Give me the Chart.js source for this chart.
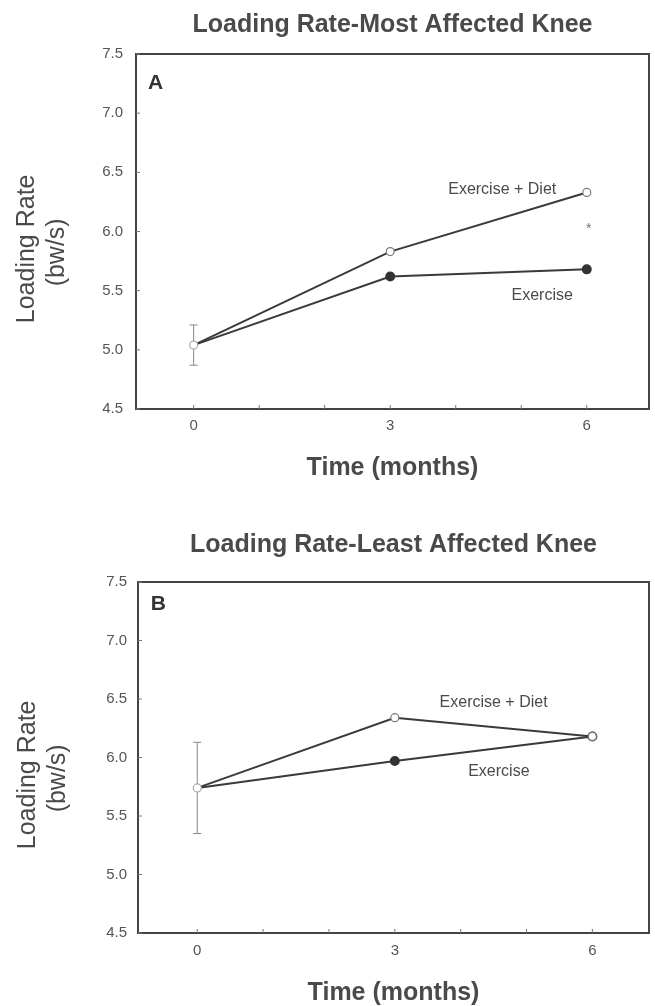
<!DOCTYPE html>
<html lang="en">
<head>
<meta charset="UTF-8">
<title>Loading Rate - Most and Least Affected Knee</title>
<script src="https://cdn.jsdelivr.net/npm/chart.js"></script>
<style>
  body { margin: 0; background: #ffffff; width: 655px; }
  canvas { display: block; }
</style>
</head>
<body>
<canvas id="chartA" width="655" height="503"></canvas>
<canvas id="chartB" width="655" height="503"></canvas>
<script>
// time points (months)
const months = [0, 3, 6];
const xTickValues = [0, 1, 2, 3, 4, 5, 6];
const xTickLabels = ['0', '3', '6'];
const yTickValues = [4.5, 5.0, 5.5, 6.0, 6.5, 7.0, 7.5];

// A - most affected knee
const exDietA = [5.04, 5.83, 6.33];
const exerciseA = [5.04, 5.62, 5.68];
const baselineSdA = 0.17;

// B - least affected knee
const exDietB = [5.74, 6.34, 6.18];
const exerciseB = [5.74, 5.97, 6.18];
const baselineSdB = 0.39;

const INK = '#3a3a3a';
const TEXT = '#4a4a4a';
const FONT = "'Liberation Sans', Arial, sans-serif";
Chart.defaults.font.family = FONT;

// box frame (top + right) and small inward ticks
const framePlugin = {
  id: 'frame',
  beforeDatasetsDraw(chart) {
    const { ctx, chartArea: a, scales: { x, y } } = chart;
    ctx.save();
    ctx.strokeStyle = '#444';
    ctx.lineWidth = 2;
    ctx.beginPath();
    ctx.moveTo(a.left, a.top);
    ctx.lineTo(a.right, a.top);
    ctx.lineTo(a.right, a.bottom);
    ctx.stroke();
    ctx.lineWidth = 1;
    ctx.strokeStyle = '#777';
    ctx.beginPath();
    xTickValues.forEach(v => {
      const px = x.getPixelForValue(v);
      ctx.moveTo(px, a.bottom);
      ctx.lineTo(px, a.bottom - 4);
    });
    yTickValues.forEach(v => {
      const py = y.getPixelForValue(v);
      ctx.moveTo(a.left, py);
      ctx.lineTo(a.left + 4, py);
    });
    ctx.stroke();
    ctx.restore();
  }
};

// baseline error bar, drawn under the markers
const errorBarPlugin = {
  id: 'errorBar',
  beforeDatasetsDraw(chart, args, opts) {
    const { ctx, scales: { x, y } } = chart;
    const px = x.getPixelForValue(months[0]);
    const top = y.getPixelForValue(opts.value + opts.sd);
    const bottom = y.getPixelForValue(opts.value - opts.sd);
    ctx.save();
    ctx.strokeStyle = '#888';
    ctx.lineWidth = 1;
    ctx.beginPath();
    ctx.moveTo(px, top); ctx.lineTo(px, bottom);
    ctx.moveTo(px - 4, top); ctx.lineTo(px + 4, top);
    ctx.moveTo(px - 4, bottom); ctx.lineTo(px + 4, bottom);
    ctx.stroke();
    ctx.restore();
  }
};

// series labels, panel letter and significance mark
const labelPlugin = {
  id: 'labels',
  afterDatasetsDraw(chart, args, opts) {
    const { ctx, scales: { x, y } } = chart;
    ctx.save();
    ctx.textAlign = 'center';
    ctx.textBaseline = 'middle';
    opts.items.forEach(it => {
      ctx.font = it.font;
      ctx.fillStyle = it.color || TEXT;
      ctx.fillText(it.text, x.getPixelForValue(it.x), y.getPixelForValue(it.y));
    });
    ctx.restore();
  }
};

function makePanel(id, cfg) {
  const ctx = document.getElementById(id).getContext('2d');
  return new Chart(ctx, {
    type: 'line',
    data: {
      datasets: [
        {
          label: 'Exercise + Diet',
          data: months.map((m, i) => ({ x: m, y: cfg.exDiet[i] })),
          borderColor: INK,
          borderWidth: 2,
          pointRadius: 4,
          pointBackgroundColor: '#ffffff',
          pointBorderColor: ['#aaaaaa', '#777777', '#777777'],
          pointBorderWidth: 1.2,
          tension: 0
        },
        {
          label: 'Exercise',
          data: months.map((m, i) => ({ x: m, y: cfg.exercise[i] })),
          borderColor: INK,
          borderWidth: 2,
          pointRadius: [0, 4, 4],
          pointBackgroundColor: '#333333',
          pointBorderColor: '#333333',
          tension: 0
        }
      ]
    },
    options: {
      responsive: false,
      animation: false,
      events: [],
      layout: { padding: { left: 0, right: 2, top: 0, bottom: 0 } },
      scales: {
        x: {
          type: 'linear',
          min: cfg.xMin,
          max: cfg.xMax,
          afterBuildTicks: s => { s.ticks = xTickValues.map(v => ({ value: v })); },
          afterFit: s => { s.height = cfg.xHeight; },
          ticks: {
            autoSkip: false,
            maxRotation: 0,
            padding: cfg.xTickPad,
            color: '#555',
            font: { size: 15 },
            callback: v => xTickLabels.includes(String(v)) ? String(v) : ''
          },
          grid: { display: false, drawTicks: false },
          border: { display: true, color: '#444', width: 2 },
          title: {
            display: true,
            text: 'Time (months)',
            color: TEXT,
            font: { size: 25, weight: 'bold', lineHeight: 1 },
            padding: { top: 0, bottom: cfg.xTitlePad }
          }
        },
        y: {
          min: 4.5,
          max: 7.5,
          afterBuildTicks: s => { s.ticks = yTickValues.map(v => ({ value: v })); },
          afterFit: s => { s.width = cfg.yWidth; },
          ticks: {
            padding: cfg.yTickPad,
            color: '#555',
            font: { size: 15 },
            callback: v => Number(v).toFixed(1)
          },
          grid: { display: false, drawTicks: false },
          border: { display: true, color: '#444', width: 2 },
          title: {
            display: true,
            text: ['Loading Rate     ', '(bw/s)      '],
            color: TEXT,
            font: { size: 25, lineHeight: 1.2 },
            padding: { top: cfg.yTitlePad, bottom: 0 }
          }
        }
      },
      plugins: {
        legend: { display: false },
        tooltip: { enabled: false },
        title: {
          display: true,
          text: cfg.title,
          fullSize: false,
          color: TEXT,
          font: { size: 25, weight: 'bold', lineHeight: 1.2 },
          padding: cfg.titlePad
        },
        errorBar: { value: cfg.exDiet[0], sd: cfg.sd },
        labels: { items: cfg.labels }
      }
    },
    plugins: [framePlugin, errorBarPlugin, labelPlugin]
  });
}

makePanel('chartA', {
  title: 'Loading Rate-Most Affected Knee',
  exDiet: exDietA,
  exercise: exerciseA,
  sd: baselineSdA,
  xMin: -0.88, xMax: 6.95,
  xHeight: 94, xTickPad: 8, xTitlePad: 22,
  yWidth: 136, yTickPad: 13, yTitlePad: 12,
  titlePad: { top: 10, bottom: 14 },
  labels: [
    { text: 'A', x: -0.58, y: 7.25, font: 'bold 21px ' + FONT, color: '#333' },
    { text: 'Exercise + Diet', x: 4.71, y: 6.35, font: '16px ' + FONT },
    { text: 'Exercise', x: 5.32, y: 5.46, font: '16px ' + FONT },
    { text: '*', x: 6.03, y: 6.02, font: '14px ' + FONT, color: '#777' }
  ]
});

makePanel('chartB', {
  title: 'Loading Rate-Least Affected Knee',
  exDiet: exDietB,
  exercise: exerciseB,
  sd: baselineSdB,
  xMin: -0.9, xMax: 6.86,
  xHeight: 73, xTickPad: 9, xTitlePad: 0,
  yWidth: 138, yTickPad: 11, yTitlePad: 13,
  titlePad: { top: 27, bottom: 22 },
  labels: [
    { text: 'B', x: -0.59, y: 7.31, font: 'bold 21px ' + FONT, color: '#333' },
    { text: 'Exercise + Diet', x: 4.5, y: 6.47, font: '16px ' + FONT },
    { text: 'Exercise', x: 4.58, y: 5.88, font: '16px ' + FONT }
  ]
});
</script>
</body>
</html>
